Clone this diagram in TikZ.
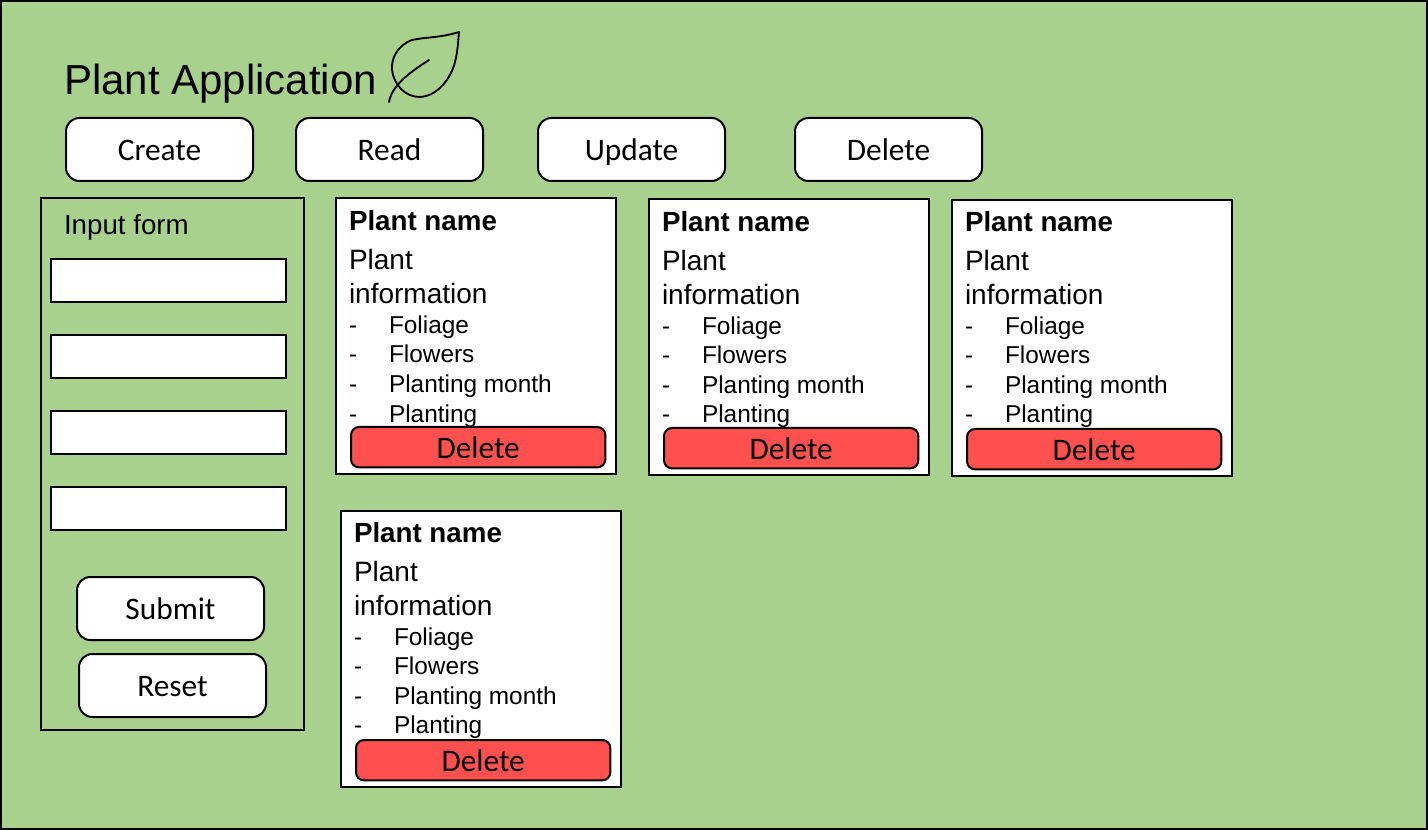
\documentclass[tikz,border=0pt]{standalone}
\usepackage{fontspec}
\setmainfont{Liberation Sans}
\newfontfamily\btnfont{Carlito}
\usetikzlibrary{positioning,calc}
\definecolor{pagegreen}{RGB}{169,209,142}
\definecolor{delred}{RGB}{255,80,80}
\newcommand{\bwidth}{140.25pt}
\newcommand{\bheight}{47.25pt}
\begin{document}
\begin{tikzpicture}[
  x=0.75pt,y=-0.75pt,
  line width=1.5pt,
  frame/.style={draw=black,fill=pagegreen},
  btn/.style={draw=black,fill=white,rounded corners=10pt,anchor=north west,
              minimum width=\bwidth,minimum height=\bheight,inner sep=0pt,
              text height=20.8pt,text depth=3.6pt,
              font=\btnfont\fontsize{23.5}{28}\selectfont},
  field/.style={draw=black,fill=white,anchor=north west,
                minimum width=176pt,minimum height=32.5pt,inner sep=0pt},
  panel/.style={draw=black,fill=none,anchor=north west,
                minimum width=197.25pt,minimum height=399.25pt,inner sep=0pt},
  card/.style={draw=black,fill=white,anchor=north west,
               minimum width=210.25pt,minimum height=207.25pt,inner sep=0pt},
  delbtn/.style={draw=black,fill=delred,rounded corners=6pt,anchor=north west,
                 minimum width=190.75pt,minimum height=30.25pt,inner sep=0pt,
                 text height=20.8pt,text depth=3.6pt,
                 font=\btnfont\fontsize{23.5}{28}\selectfont},
  txt/.style={anchor=base west,inner sep=0pt},
  titletxt/.style={txt,font=\fontsize{31.5}{38}\selectfont},
  headtxt/.style={txt,font=\bfseries\fontsize{20.8}{25}\selectfont},
  bodytxt/.style={txt,font=\fontsize{21}{25}\selectfont},
  formtxt/.style={txt,font=\fontsize{20.8}{25}\selectfont},
  itemtxt/.style={txt,font=\fontsize{18.3}{22}\selectfont},
]
\useasboundingbox (0,0) rectangle (1428,830);
\node[frame,anchor=north west,minimum width=1069.5pt,minimum height=621pt,inner sep=0pt] (page) at (0,0) {};

\node[titletxt] (title) at (63,95) {Plant Application};
% leaf
\draw[line width=1.4pt,line join=round] (459,32)
  .. controls (440,38) and (425,37) .. (412,40)
  .. controls (398,45) and (391,58) .. (392,70)
  .. controls (394,85) and (405,97) .. (420,97)
  .. controls (438,96) and (451,78) .. (455,62)
  .. controls (458,50) and (458,42) .. (459,32) -- cycle;
\draw[line width=1.4pt,line cap=round] (429,60)
  .. controls (412,71) and (403,78) .. (396,87)
  .. controls (392,92) and (390,97) .. (389,102);

\node[btn] (create) at (65,117) {Create};
\node[btn] (read) at (295,117) {Read};
\node[btn] (update) at (537,117) {Update};
\node[btn] (delete) at (794,117) {Delete};

\node[panel] (form) at (40,197) {};
\node[formtxt] (formtitle) at (63,235) {Input form};
\foreach \fid/\fy in {a/258,b/334,c/410,d/486}
  \node[field] (field\fid) at (50,\fy) {};
\node[btn] (submit) at (76,576) {Submit};
\node[btn] (reset) at (78,653) {Reset};

\foreach \cid/\cx/\cy/\ty in {1/335/197/0,2/648/198/0,3/951/199/-1,4/340/510/-1.5} {
  \node[card] (card\cid) at (\cx,\cy) {};
  \node[headtxt] (name\cid) at ($(card\cid.north west)+(13,34+\ty)$) {Plant name};
  \node[bodytxt] (plant\cid) at ($(card\cid.north west)+(13,73+\ty)$) {Plant};
  \node[bodytxt] (info\cid) at ($(card\cid.north west)+(13,107+\ty)$) {information};
  \foreach \iid/\iy/\itxt in {a/137/Foliage,b/166/Flowers,c/196/Planting month,d/225/Planting} {
    \node[itemtxt] (dash\cid\iid) at ($(card\cid.north west)+(13,\iy+\ty)$) {-};
    \node[itemtxt] (item\cid\iid) at ($(card\cid.north west)+(53,\iy+\ty)$) {\itxt};
  }
  \node[delbtn] (del\cid) at ($(card\cid.north west)+(15,229)$) {Delete};
}
\end{tikzpicture}
\end{document}
